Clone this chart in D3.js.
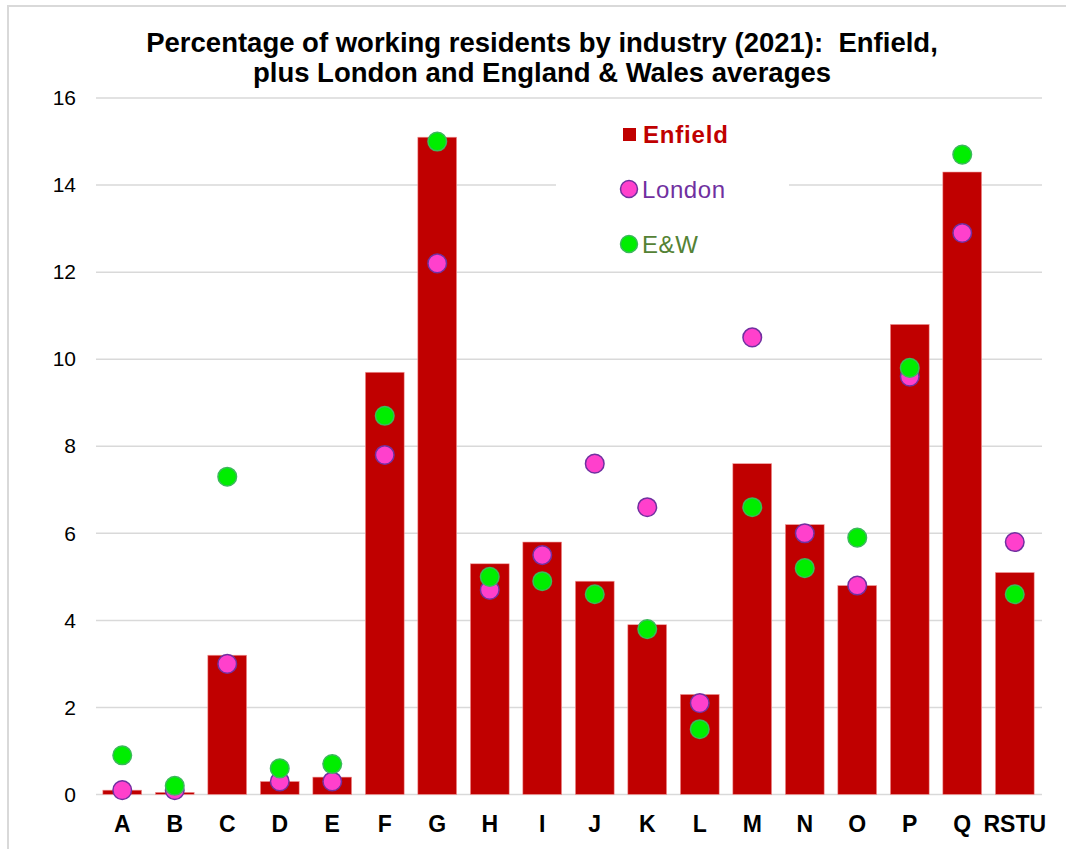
<!DOCTYPE html>
<html>
<head>
<meta charset="utf-8">
<script src="https://cdn.jsdelivr.net/npm/d3@7"></script>
<style>
  body { margin: 0; background: #fff; }
  svg { font-family: Arial, "Liberation Sans", sans-serif; }
</style>
</head>
<body>
<script>
var width = 1066,
    height = 849;

// industry sections
var industries = ['A', 'B', 'C', 'D', 'E', 'F', 'G', 'H', 'I', 'J', 'K', 'L', 'M', 'N', 'O', 'P', 'Q', 'RSTU'];
var enfield = [0.1, 0.05, 3.2, 0.3, 0.4, 9.7, 15.1, 5.3, 5.8, 4.9, 3.9, 2.3, 7.6, 6.2, 4.8, 10.8, 14.3, 5.1];
var london = [0.1, 0.1, 3.0, 0.3, 0.3, 7.8, 12.2, 4.7, 5.5, 7.6, 6.6, 2.1, 10.5, 6.0, 4.8, 9.6, 12.9, 5.8];
var englandWales = [0.9, 0.2, 7.3, 0.6, 0.7, 8.7, 15.0, 5.0, 4.9, 4.6, 3.8, 1.5, 6.6, 5.2, 5.9, 9.8, 14.7, 4.6];
var yTicks = [0, 2, 4, 6, 8, 10, 12, 14, 16];

var svg = d3.select('body').append('svg')
    .attr('width', width)
    .attr('height', height);

// chart frame
svg.append('rect')
    .attr('x', 8).attr('y', 6)
    .attr('width', width + 10).attr('height', height + 10)
    .attr('fill', 'none')
    .attr('stroke', '#d9d9d9')
    .attr('stroke-width', 2);

var x = d3.scaleBand()
    .domain(industries)
    .range([96, 1041])
    .paddingInner(0.26)
    .paddingOuter(0.13);

var y = d3.scaleLinear()
    .domain([0, 16])
    .range([794.5, 98]);

// gridlines
svg.append('g')
    .selectAll('line')
    .data(yTicks)
    .enter().append('line')
    .attr('x1', 96).attr('x2', 1042)
    .attr('y1', function (d) { return y(d); })
    .attr('y2', function (d) { return y(d); })
    .attr('stroke', '#d9d9d9')
    .attr('stroke-width', 1.5);

// y axis labels
var yAxis = d3.axisLeft(y).tickValues(yTicks).tickSize(0).tickPadding(0);
var yg = svg.append('g')
    .attr('transform', 'translate(76,0)')
    .call(yAxis);
yg.select('.domain').remove();
yg.selectAll('text')
    .attr('font-size', 21)
    .attr('font-family', 'Arial, "Liberation Sans", sans-serif')
    .attr('fill', '#000');

// x axis labels
var xAxis = d3.axisBottom(x).tickSize(0).tickPadding(0);
var xg = svg.append('g')
    .attr('transform', 'translate(0,816)')
    .call(xAxis);
xg.select('.domain').remove();
xg.selectAll('text')
    .attr('font-size', 23)
    .attr('font-weight', 'bold')
    .attr('font-family', 'Arial, "Liberation Sans", sans-serif')
    .attr('fill', '#000');

// Enfield bars
svg.append('g')
    .selectAll('rect')
    .data(industries)
    .enter().append('rect')
    .attr('x', function (d) { return x(d); })
    .attr('width', x.bandwidth())
    .attr('y', function (d, i) { return y(enfield[i]); })
    .attr('height', function (d, i) { return y(0) - y(enfield[i]); })
    .attr('fill', '#c00000')
    .attr('stroke', '#f2a0a0')
    .attr('stroke-width', 0.6);

// London markers
svg.append('g')
    .selectAll('circle')
    .data(industries)
    .enter().append('circle')
    .attr('cx', function (d) { return x(d) + x.bandwidth() / 2; })
    .attr('cy', function (d, i) { return y(london[i]); })
    .attr('r', 9.3)
    .attr('fill', '#ff40cc')
    .attr('stroke', '#7030a0')
    .attr('stroke-width', 1.5);

// England & Wales markers
svg.append('g')
    .selectAll('circle')
    .data(industries)
    .enter().append('circle')
    .attr('cx', function (d) { return x(d) + x.bandwidth() / 2; })
    .attr('cy', function (d, i) { return y(englandWales[i]); })
    .attr('r', 9.3)
    .attr('fill', '#00ee00')
    .attr('stroke', '#3cb85c')
    .attr('stroke-width', 1.5);

// legend
var legend = svg.append('g');
legend.append('rect')
    .attr('x', 556).attr('y', 108)
    .attr('width', 233).attr('height', 162)
    .attr('fill', '#fff');
legend.append('rect')
    .attr('x', 623).attr('y', 128)
    .attr('width', 13).attr('height', 13)
    .attr('fill', '#c00000');
legend.append('text')
    .attr('x', 643).attr('y', 143)
    .attr('font-size', 24).attr('font-weight', 'bold')
    .attr('letter-spacing', 0.8)
    .attr('fill', '#c00000')
    .text('Enfield');
legend.append('circle')
    .attr('cx', 629).attr('cy', 189).attr('r', 8.5)
    .attr('fill', '#ff40cc').attr('stroke', '#7030a0').attr('stroke-width', 1.5);
legend.append('text')
    .attr('x', 642).attr('y', 198)
    .attr('font-size', 24)
    .attr('letter-spacing', 0.6)
    .attr('fill', '#7030a0')
    .text('London');
legend.append('circle')
    .attr('cx', 629).attr('cy', 244).attr('r', 8.5)
    .attr('fill', '#00ee00').attr('stroke', '#3cb85c').attr('stroke-width', 1.5);
legend.append('text')
    .attr('x', 642).attr('y', 253)
    .attr('font-size', 24)
    .attr('letter-spacing', 0.6)
    .attr('fill', '#548235')
    .text('E&W');

// title
var title = svg.append('text')
    .attr('text-anchor', 'middle')
    .attr('font-size', 27.5)
    .attr('font-weight', 'bold')
    .attr('fill', '#000')
    .style('white-space', 'pre');
title.append('tspan').attr('x', 542).attr('y', 52)
    .text('Percentage of working residents by industry (2021):  Enfield,');
title.append('tspan').attr('x', 542).attr('y', 82)
    .text('plus London and England & Wales averages');
</script>
</body>
</html>
